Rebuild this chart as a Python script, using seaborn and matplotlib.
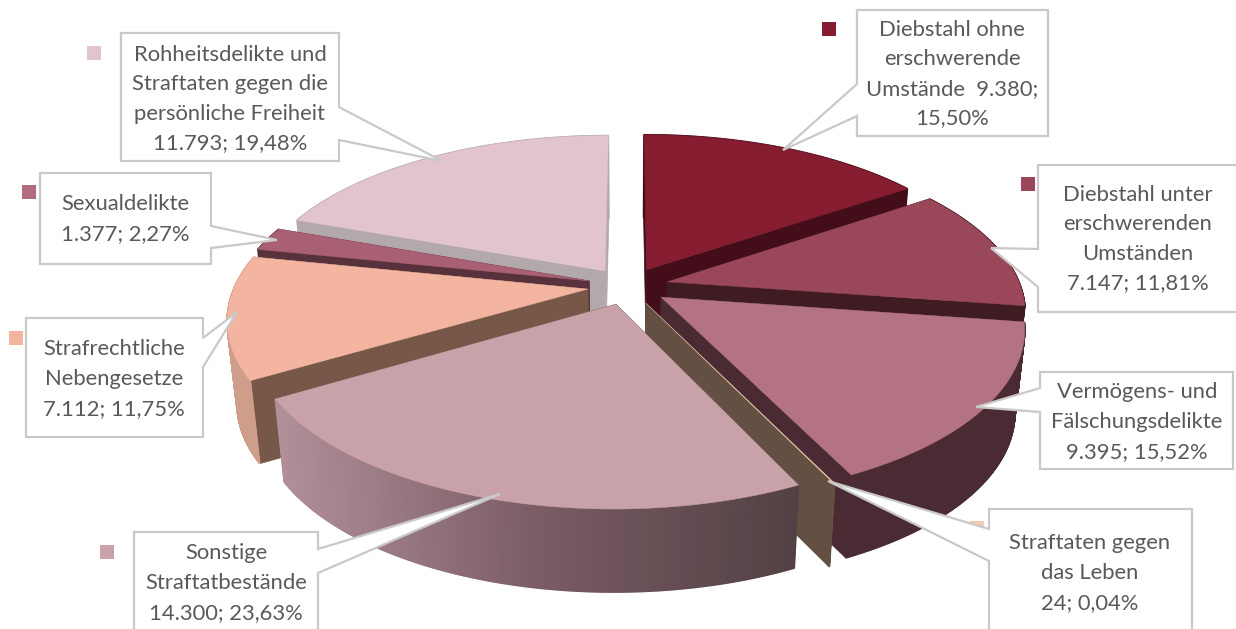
"""Exploded 3D pie of offences, drawn in pixel coordinates on a seaborn-themed axes."""
import matplotlib
matplotlib.use('Agg')
import matplotlib.pyplot as plt
import numpy as np
import seaborn as sns

sns.set_theme(style='white')
plt.rcParams['font.family'] = ['Lato', 'DejaVu Sans']

# clockwise from 12 o'clock
categories = ['Diebstahl ohne', 'Diebstahl unter', 'Vermoegen', 'Leben',
              'Sonstige', 'Nebengesetze', 'Sexual', 'Rohheit']
counts = [9380, 7147, 9395, 24, 14300, 7112, 1377, 11793]
labels = [
    'Diebstahl ohne\nerschwerende\nUmstände  9.380;\n15,50%',
    'Diebstahl unter\nerschwerenden\nUmständen\n7.147; 11,81%',
    'Vermögens- und\nFälschungsdelikte\n9.395; 15,52%',
    'Straftaten gegen\ndas Leben\n24; 0,04%',
    'Sonstige\nStraftatbestände\n14.300; 23,63%',
    'Strafrechtliche\nNebengesetze\n7.112; 11,75%',
    'Sexualdelikte\n1.377; 2,27%',
    'Rohheitsdelikte und\nStraftaten gegen die\npersönliche Freiheit\n11.793; 19,48%',
]
top_colors = ['#851C30', '#9B475A', '#B37382', '#F5C9AE',
              '#C9A1A9', '#F3B5A0', '#AA6073', '#E2C5CC']
key_colors = ['#851C30', '#9B475A', '#B37382', '#F5C9AE',
              '#C9A1A9', '#F3B5A0', '#B36B7E', '#E2C5CC']
cut_colors = ['#430E1A', '#3E1C22', '#4A2A33', '#645043',
              '#52403F', '#775748', '#57323C', '#B3A8AB']
wall_colors = [['#430E1A'] * 2, ['#3E1C22'] * 2, ['#4A2A33'] * 2, ['#645043'] * 2,
               ['#B08F99', '#7A5C64', '#524144'], ['#CF9E8A'] * 2, ['#57323C'] * 2, ['#B3A8AB'] * 2]
# back to front
draw_order = [7, 6, 0, 1, 5, 2, 3, 4]

# box (x0, y0, x1, y1), callout (side attach start, tip, side attach end),
# legend key (x, y), text centre (x, y)
boxes = [(857, 10, 1048, 136), (1038, 165, 1245, 312), (1040, 372, 1233, 469), (989, 509, 1192, 650),
         (134, 532, 318, 650), (26, 318, 203, 437), (40, 173, 211, 264), (121, 33, 339, 161)]
callouts = [((857, 84), (783, 150), (857, 116)), ((1038, 249), (991, 248), (1038, 287)),
            ((1040, 388), (976, 407), (1040, 412)), ((989, 529), (828, 481), (989, 561)),
            ((318, 549), (500, 494), (318, 573)), ((203, 338), (237, 312), (203, 367)),
            ((211, 226), (277, 240), (211, 248)), ((339, 107), (442, 161), (339, 140))]
key_xy = [(822, 22), (1021, 177), (1005, 383), (970, 521), (100, 545), (9, 331), (22, 185), (87, 46)]
text_xy = [(952, 74), (1138, 239), (1137, 422), (1090, 573), (226, 583), (114, 379), (125, 219), (230, 99)]

CX, CY = 628, 286
R, RY, PERSP = 353, 163, 0.17
EXPLODE = 0.115
DEPTH = 83
BOTTOM_SCALE = 0.975
KEY = 14


def project(u, v):
    s = 1 / (1 + PERSP * v)
    return CX + R * u * s, CY - RY * v * s


def project_bottom(u, v):
    x, y = project(u, v)
    return CX + (x - CX) * BOTTOM_SCALE, y + DEPTH


shares = np.array(counts) / np.sum(counts)
edges = np.concatenate([[0], np.cumsum(shares)]) * 2 * np.pi

fig = plt.figure(figsize=(12.36, 6.29), dpi=100)
ax = fig.add_axes([0, 0, 1, 1])
ax.set_xlim(0, 1236)
ax.set_ylim(629, 0)
ax.axis('off')

# legend keys sit under the pie and the callouts
for (kx, ky), color in zip(key_xy, key_colors):
    ax.add_patch(plt.Rectangle((kx, ky), KEY, KEY, color=color, lw=0, zorder=1))

z = 2
for i in draw_order:
    mid = (edges[i] + edges[i + 1]) / 2
    u0, v0 = EXPLODE * np.sin(mid), EXPLODE * np.cos(mid)
    t = np.linspace(edges[i], edges[i + 1], max(3, int(shares[i] * 1200)))
    u = u0 + np.sin(t)
    v = v0 + np.cos(t)
    ax0, ay0 = project(u0, v0)
    bx0, by0 = project_bottom(u0, v0)
    tx, ty = project(u, v)
    bx, by = project_bottom(u, v)

    # the two radial cut faces
    for j in (0, -1):
        ax.fill([ax0, tx[j], bx[j], bx0], [ay0, ty[j], by[j], by0],
                color=cut_colors[i], lw=0.5, zorder=z)
    # outer wall, shaded left to right
    pal = sns.blend_palette(wall_colors[i], 256)
    span = max(tx.max() - tx.min(), 1)
    for j in range(len(t) - 1):
        mx = (tx[j] + tx[j + 1]) / 2
        c = pal[min(255, int((mx - tx.min()) / span * 256))]
        ax.fill([tx[j], tx[j + 1], bx[j + 1], bx[j]], [ty[j], ty[j + 1], by[j + 1], by[j]],
                color=c, lw=1.2, zorder=z, joinstyle='bevel')
    # top surface
    ax.fill(np.r_[ax0, tx], np.r_[ay0, ty], color=top_colors[i], lw=0.3, zorder=z + 0.5)
    z += 1

for (x0, y0, x1, y1), (p, tip, q), (tx_, ty_), text in zip(boxes, callouts, text_xy, labels):
    # walk the box clockwise from the top left and splice the wedge into its side
    if p[0] == x0:
        outline = [(x0, y0), (x1, y0), (x1, y1), (x0, y1), q, tip, p]
    else:
        outline = [(x0, y0), (x1, y0), p, tip, q, (x1, y1), (x0, y1)]
    xs, ys = zip(*outline)
    ax.fill(xs, ys, facecolor='white', edgecolor='#C9C9C9', lw=1.6, zorder=30, joinstyle='miter')
    ax.text(tx_, ty_, text, ha='center', va='center', color='#595959', fontsize=15.8,
            linespacing=1.6, zorder=31)

fig.savefig('out.png', dpi=100)
